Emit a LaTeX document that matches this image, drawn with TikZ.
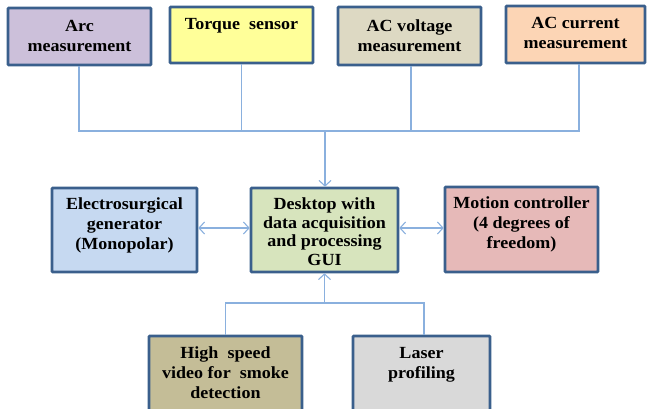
\documentclass[tikz,border=0pt]{standalone}
\usepackage{fontspec}
\setmainfont[FakeStretch=1.06]{Liberation Serif}
\usetikzlibrary{arrows.meta}
\definecolor{bordc}{HTML}{3A5F8C}
\definecolor{linec}{HTML}{8AB0DE}
\definecolor{arcc}{HTML}{CCC0DA}
\definecolor{torc}{HTML}{FFFF99}
\definecolor{acvc}{HTML}{DDD9C3}
\definecolor{accc}{HTML}{FCD5B5}
\definecolor{elecc}{HTML}{C6D9F1}
\definecolor{deskc}{HTML}{D7E4BD}
\definecolor{motc}{HTML}{E6B9B8}
\definecolor{hsc}{HTML}{C4BD97}
\definecolor{lasc}{HTML}{D9D9D9}
\tikzset{
  box/.style={draw=bordc, line width=2.6pt, rounded corners=0.8pt, inner sep=0pt},
  lbl/.style={font=\bfseries\fontsize{17}{20}\selectfont, align=center, inner sep=0pt, anchor=north, text=black},
  conn/.style={draw=linec, line width=1.2pt},
  arr/.style={conn, -{Straight Barb[length=5.5pt,width=12pt,line width=1.1pt]}},
  darr/.style={conn, {Straight Barb[length=5.5pt,width=12pt,line width=1.1pt]}-{Straight Barb[length=5.5pt,width=12pt,line width=1.1pt]}},
}
\begin{document}
\begin{tikzpicture}[x=1pt,y=-1pt]
\useasboundingbox (0,0) rectangle (648,409);
\clip (0,0) rectangle (648,409);
% top row
\node[box, fill=arcc, minimum width=143pt, minimum height=57pt] (arc) at (79.5,36.5) {};
\node[lbl] (arct) at (79.5,20) {Arc\\measurement};
\node[box, fill=torc, minimum width=143pt, minimum height=56pt] (tor) at (241.5,35) {};
\node[lbl] (tort) at (241.5,18) {Torque\ \ sensor};
\node[box, fill=acvc, minimum width=143pt, minimum height=58pt] (acv) at (409.5,36) {};
\node[lbl] (acvt) at (409.5,20) {AC voltage\\measurement};
\node[box, fill=accc, minimum width=139pt, minimum height=57pt] (acc) at (575.5,34.5) {};
\node[lbl] (acct) at (575.5,17) {AC current\\measurement};
% middle row
\node[box, fill=elecc, minimum width=145pt, minimum height=84pt] (elec) at (124.5,230) {};
\node[lbl] (elect) at (124.5,198) {Electrosurgical\\generator\\(Monopolar)};
\node[box, fill=deskc, minimum width=147pt, minimum height=84pt] (desk) at (324.5,230) {};
\node[lbl, font=\bfseries\fontsize{17}{18.5}\selectfont] (deskt) at (324.5,198) {Desktop with\\data acquisition\\and processing\\GUI};
\node[box, fill=motc, minimum width=153pt, minimum height=85pt] (mot) at (521.5,229.5) {};
\node[lbl] (mott) at (521.5,197) {Motion controller\\(4 degrees of\\freedom)};
% bottom row
\node[box, fill=hsc, minimum width=153pt, minimum height=80pt] (hs) at (225.5,376) {};
\node[lbl] (hst) at (225.5,347) {High\ \ speed\\video for\ \ smoke\\detection};
\node[box, fill=lasc, minimum width=137pt, minimum height=80pt] (las) at (421.5,376) {};
\node[lbl] (last) at (421.5,347) {Laser\\profiling};
% connectors top
\coordinate (jtop) at (325,131);
\draw[conn] (arc.south -| 79,0) |- (jtop);
\draw[conn] (acc.south -| 579,0) |- (jtop);
\draw[conn] (tor.south) -- (tor.south |- jtop);
\draw[conn] (acv.south -| 411,0) -- (411,131);
\draw[arr] (jtop) -- (desk.north -| jtop);
% middle arrows
\draw[darr] (elec.east |- 0,228) -- (desk.west |- 0,228);
\draw[darr] (desk.east |- 0,228) -- (mot.west |- 0,228);
% bottom connectors
\coordinate (jbot) at (324.5,303);
\draw[conn] (hs.north) |- (jbot);
\draw[conn] (las.north -| 424,0) |- (jbot);
\draw[arr] (jbot) -- (desk.south);
\end{tikzpicture}
\end{document}
